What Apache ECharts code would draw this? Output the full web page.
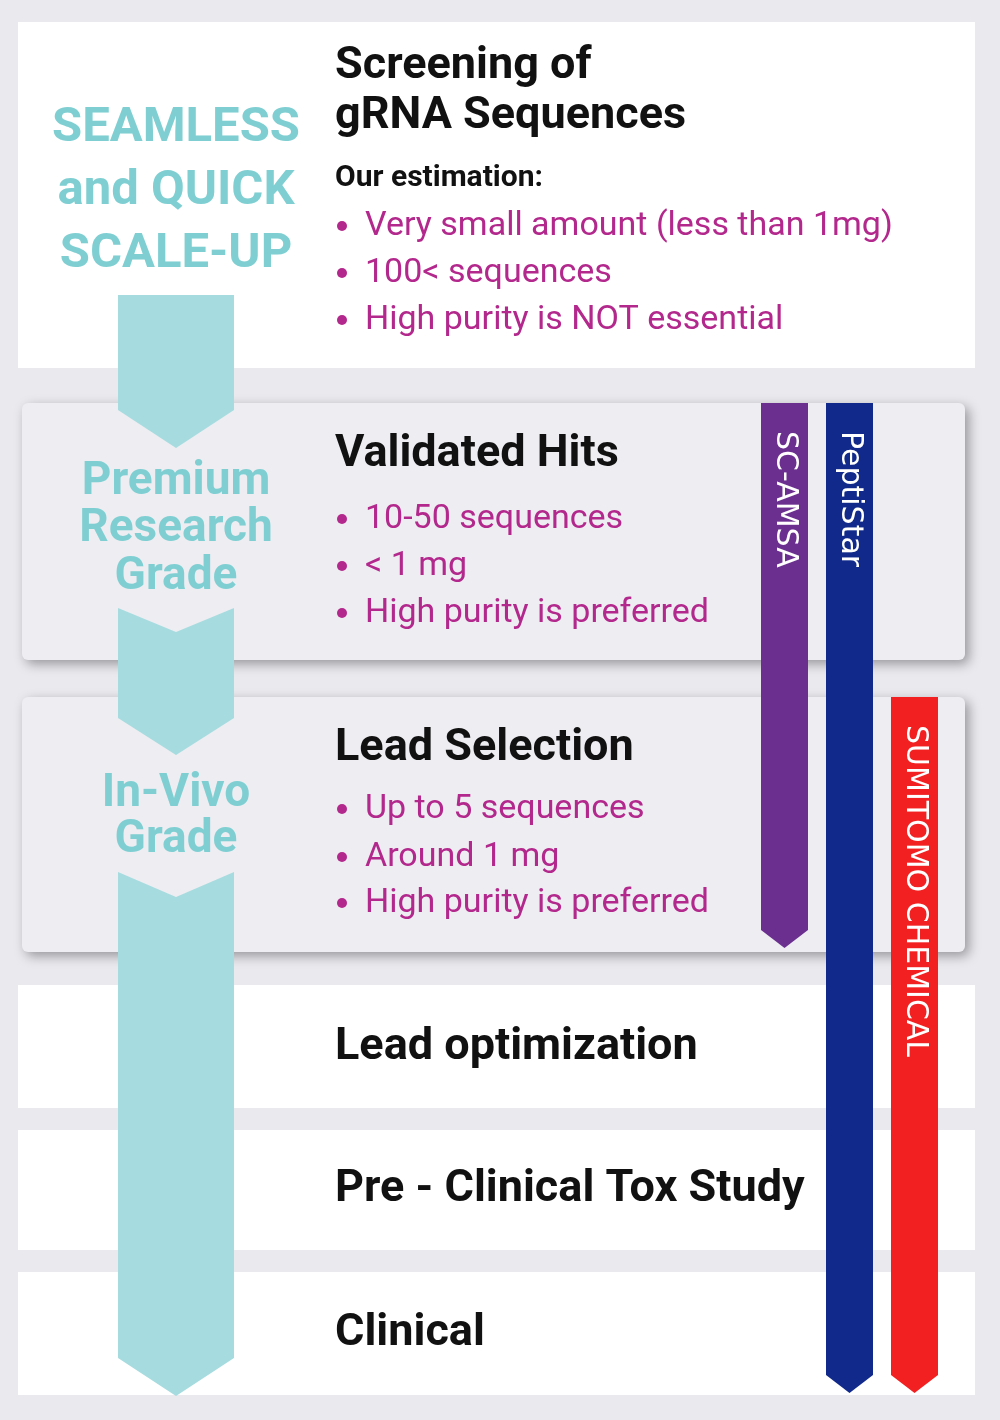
<!DOCTYPE html>
<html><head><meta charset="utf-8">
<script src="https://cdn.jsdelivr.net/npm/echarts@6/dist/echarts.min.js"></script>
<style>html,body{margin:0;padding:0;background:#e9e9ee}#c{width:1000px;height:1420px}</style>
</head><body><div id="c"></div>
<script>
const leftLabels = [["SEAMLESS","and QUICK","SCALE-UP"],["Premium","Research","Grade"],["In-Vivo","Grade"]];
const stageTitles = [["Screening of","gRNA Sequences"],["Validated Hits"],["Lead Selection"],["Lead optimization"],["Pre - Clinical Tox Study"],["Clinical"]];
const stageBullets = [
  ["Very small amount (less than 1mg)","100< sequences","High purity is NOT essential"],
  ["10-50 sequences","< 1 mg","High purity is preferred"],
  ["Up to 5 sequences","Around 1 mg","High purity is preferred"],
  [],[],[]
];
const productNames = ["SC-AMSA","PeptiStar","SUMITOMO CHEMICAL"];
const productColors = ["#6b2f8f","#10298a","#f22020"];

const F = "Roboto, 'Noto Sans', sans-serif";
const g = [];
const panels = [
  {x:18,y:22,w:957,h:346,fill:'#ffffff',sh:false},
  {x:22,y:403,w:943,h:257,fill:'#ededf2',sh:true},
  {x:22,y:697,w:943,h:255,fill:'#ededf2',sh:true},
  {x:18,y:985,w:957,h:123,fill:'#ffffff',sh:false},
  {x:18,y:1130,w:957,h:120,fill:'#ffffff',sh:false},
  {x:18,y:1272,w:957,h:123,fill:'#ffffff',sh:false}
];
panels.forEach(p=>g.push({type:'rect',shape:{x:p.x,y:p.y,width:p.w,height:p.h,r:p.sh?6:0},
  style:{fill:p.fill,shadowBlur:p.sh?12:0,shadowOffsetX:p.sh?4:0,shadowOffsetY:p.sh?4:0,shadowColor:'rgba(0,0,0,0.35)'}}));
const T = '#a6dcdf';
const L=118,R=234,M=176;
g.push({type:'polygon',shape:{points:[[L,295],[R,295],[R,410],[M,448],[L,410]]},style:{fill:T}});
g.push({type:'polygon',shape:{points:[[L,608],[M,632],[R,608],[R,718],[M,755],[L,718]]},style:{fill:T}});
g.push({type:'polygon',shape:{points:[[L,872],[M,897],[R,872],[R,1358],[M,1396],[L,1358]]},style:{fill:T}});
const leftY=[[129,192,255],[482,529,577],[794,840]];
const leftSize=[49,46,46];
leftLabels.forEach((arr,i)=>arr.forEach((t,j)=>g.push({type:'text',x:M,y:leftY[i][j],
  style:{text:t,fill:'#7fcfd2',font:`bold ${leftSize[i]}px ${F}`,textAlign:'center',textVerticalAlign:'middle'}})));
const titleY=[[67,117],[455],[749],[1048],[1190],[1334]];
stageTitles.forEach((arr,i)=>arr.forEach((t,j)=>g.push({type:'text',x:335,y:titleY[i][j],
  style:{text:t,fill:'#111',font:`bold 45px ${F}`,textVerticalAlign:'middle'}})));
g.push({type:'text',x:335,y:178,style:{text:'Our estimation:',fill:'#111',font:`bold 30px ${F}`,textVerticalAlign:'middle'}});
const bulletY=[[226,273,320],[519,566,613],[809,857,903]];
stageBullets.forEach((arr,i)=>arr.forEach((t,j)=>{
  g.push({type:'circle',shape:{cx:342,cy:bulletY[i][j],r:5},style:{fill:'#b3288c'}});
  g.push({type:'text',x:365,y:bulletY[i][j],style:{text:t,fill:'#b3288c',font:`34px ${F}`,textVerticalAlign:'middle'}});
}));
const bars=[{x:761,y0:403,y1:948},{x:826,y0:403,y1:1393},{x:891,y0:697,y1:1393}];
bars.forEach((b,i)=>{
  const w=47;
  g.push({type:'polygon',shape:{points:[[b.x,b.y0],[b.x+w,b.y0],[b.x+w,b.y1-18],[b.x+w/2,b.y1],[b.x,b.y1-18]]},style:{fill:productColors[i]}});
  g.push({type:'text',x:b.x+w/2,y:b.y0+28,rotation:-Math.PI/2,
    style:{text:productNames[i],fill:'#fff',font:`30px 'DejaVu Sans', sans-serif`,textAlign:'left',textVerticalAlign:'middle'}});
});
const chart=echarts.init(document.getElementById('c'));
chart.setOption({backgroundColor:'#e9e9ee',animation:false,graphic:g});
</script></body></html>
